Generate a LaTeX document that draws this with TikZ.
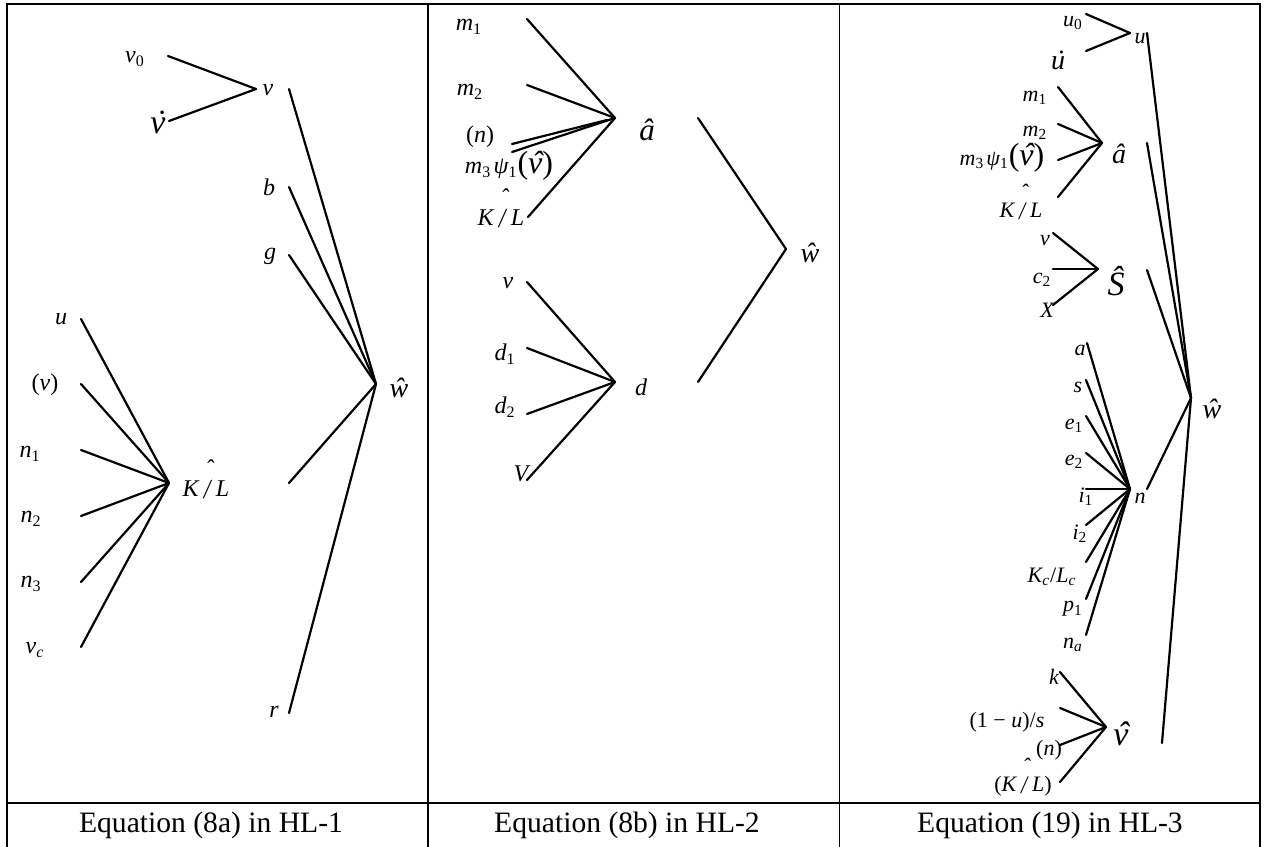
\documentclass[tikz,border=0pt]{standalone}
\usepackage{fontspec}
\setmainfont{Liberation Serif}
\newcommand\sbs[1]{\textsubscript{\upshape #1}}
\newcommand\isb[1]{\textsubscript{\itshape #1}}
\newcommand\acc[2]{{\ooalign{#1\cr\hidewidth\kern0.12em#2\hidewidth\cr}}}
\newcommand\hatslash{{\ooalign{\raisebox{-0.08em}{\scalebox{1}[1.15]{/}}\cr\hidewidth\kern0.18em\raisebox{0.8em}{ˆ}\hidewidth\cr}}}
\newcommand\KL{K\kern0.22em\hatslash\kern0.22em L}
\newcommand\bigpar[1]{{\fontsize{16}{16}\selectfont\upshape(\itshape #1\upshape)}}
\tikzset{
  lab/.style={inner sep=0pt, font=\fontsize{12}{12}\selectfont\itshape},
  labs/.style={inner sep=0pt, font=\fontsize{11}{11}\selectfont\itshape},
  mid/.style={inner sep=0pt, font=\fontsize{14}{14}\selectfont\itshape},
  big/.style={inner sep=0pt, font=\fontsize{15.5}{16}\selectfont\itshape},
  huge/.style={inner sep=0pt, font=\fontsize{17}{18}\selectfont\itshape},
  edge/.style={line width=1.1pt, line cap=round},
  frame/.style={line width=1.3pt},
  thinframe/.style={line width=0.5pt},
  captxt/.style={inner sep=0pt, font=\fontsize{14.8}{15}\selectfont},
}
\begin{document}
\begin{tikzpicture}[x=0.5pt,y=-0.5pt]
\useasboundingbox (0,0) rectangle (1266,847);
% ---------- table frame ----------
\coordinate (TL) at (7,4);
\coordinate (TR) at (1260,4);
\coordinate (BL) at (7,847);
\coordinate (BR) at (1260,847);
\coordinate (C1t) at (428,4);
\coordinate (C1b) at (428,847);
\coordinate (C2t) at (839,4);
\coordinate (C2b) at (839,847);
\coordinate (Sl) at (7,803);
\coordinate (Sr) at (1260,803);
\draw[frame] (BL) -- (TL) -- (TR) -- (BR);
\draw[frame] (C1t) -- (C1b);
\draw[thinframe] (C2t) -- (C2b);
\draw[frame] (Sl) -- (Sr);
\node[captxt] (cap1) at (211,825) {Equation (8a) in HL-1};
\node[captxt] (cap2) at (627,825) {Equation (8b) in HL-2};
\node[captxt] (cap3) at (1050,825) {Equation (19) in HL-3};

% ================= Panel 1 =================
\node[lab] (v0) at (135,59) {v\sbs{0}};
\node[huge] (vdot) at (158,126) {\acc{v}{˙}};
\node[lab] (v) at (268,90) {v};
\node[lab] (b) at (269,187) {b};
\node[lab] (g) at (270,256) {g};
\node[mid] (w1) at (399,388) {ŵ};
\node[lab] (KL1) at (206,488) {\KL};
\node[lab] (r) at (274,712) {r};
\node[lab] (u1) at (61,319) {u};
\node[lab] (pv1) at (45,385) {\upshape(\itshape v\upshape)};
\node[lab] (n1) at (30,454) {n\sbs{1}};
\node[lab] (n2) at (31,519) {n\sbs{2}};
\node[lab] (n3) at (31,584) {n\sbs{3}};
\node[lab] (vc) at (35,650) {v\isb{c}};

\coordinate (Jv) at (256,89);
\coordinate (Jw1) at (376,384);
\coordinate (JK1) at (169,483);
\coordinate (ev0) at (168,56);
\coordinate (evdot) at (169,121);
\coordinate (ev) at (289,89);
\coordinate (eb) at (289,187);
\coordinate (eg) at (289,255);
\coordinate (eKL1) at (289,483);
\coordinate (er) at (289,713);
\coordinate (eu1) at (81,319);
\coordinate (epv1) at (81,384);
\coordinate (en1) at (81,450);
\coordinate (en2) at (81,516);
\coordinate (en3) at (81,582);
\coordinate (evc) at (81,647);
\draw[edge] (ev0) -- (Jv);
\draw[edge] (evdot) -- (Jv);
\foreach \s in {ev,eb,eg,eKL1,er} \draw[edge] (\s) -- (Jw1);
\foreach \s in {eu1,epv1,en1,en2,en3,evc} \draw[edge] (\s) -- (JK1);

% ================= Panel 2 =================
\node[lab] (m1b) at (469,27) {m\sbs{1}};
\node[lab] (m2b) at (470,92) {m\sbs{2}};
\node[lab] (pn2) at (480,137) {\upshape(\itshape n\upshape)};
\node[lab] (m3b) at (509,166) {m\sbs{3}\kern0.1em ψ\sbs{1}\bigpar{\acc{v}{ˆ}}};
\node[lab] (KL2) at (501,217) {\KL};
\node[big] (a2) at (647,130) {â};
\node[mid] (w2) at (810,253) {ŵ};
\node[lab] (v2) at (508,283) {v};
\node[lab] (d1) at (505,354) {d\sbs{1}};
\node[lab] (d2) at (505,407) {d\sbs{2}};
\node[lab] (V2) at (521,474) {V};
\node[lab] (d) at (641,387) {d};

\coordinate (Ja2) at (615,118);
\coordinate (Jw2) at (786,249);
\coordinate (Jd2) at (615,382);
\coordinate (em1b) at (527,19);
\coordinate (em2b) at (527,85);
\coordinate (epn2) at (512,144);
\coordinate (epn2e) at (607,120);
\coordinate (em3b) at (512,152);
\coordinate (eKL2) at (528,217);
\coordinate (ea2) at (698,118);
\coordinate (ed) at (698,382);
\coordinate (ev2) at (527,282);
\coordinate (ed1) at (527,348);
\coordinate (ed2) at (527,414);
\coordinate (eV2) at (527,480);
\foreach \s in {em1b,em2b,em3b,eKL2} \draw[edge] (\s) -- (Ja2);
\draw[edge] (epn2) -- (epn2e);
\draw[edge] (ea2) -- (Jw2);
\draw[edge] (ed) -- (Jw2);
\foreach \s in {ev2,ed1,ed2,eV2} \draw[edge] (\s) -- (Jd2);

% ================= Panel 3 =================
\node[labs] (u0) at (1073,23) {u\sbs{0}};
\node[mid] (udot) at (1058,63) {\acc{u}{˙}};
\node[labs] (u3) at (1140,39) {u};
\node[labs] (m1c) at (1035,98) {m\sbs{1}};
\node[labs] (m2c) at (1035,133) {m\sbs{2}};
\node[labs] (m3c) at (1002,158) {m\sbs{3}\kern0.1em ψ\sbs{1}\bigpar{\acc{v}{ˆ}}};
\node[labs] (KL3) at (1021,210) {\KL};
\node[mid] (a3) at (1119,154) {â};
\node[labs] (v3) at (1045,241) {v};
\node[labs] (c2) at (1042,280) {c\sbs{2}};
\node[labs] (X3) at (1047,310) {X};
\node[huge] (S3) at (1116,281) {Ŝ};
\node[labs] (a3n) at (1080,350) {a};
\node[labs] (s3) at (1078,387) {s};
\node[labs] (e1) at (1074,426) {e\sbs{1}};
\node[labs] (e2) at (1074,462) {e\sbs{2}};
\node[labs] (i1) at (1086,497) {i\sbs{1}};
\node[labs] (i2) at (1080,534) {i\sbs{2}};
\node[labs] (KcLc) at (1052,577) {K\isb{c}\upshape/\itshape L\isb{c}};
\node[labs] (p1) at (1073,609) {p\sbs{1}};
\node[labs] (na) at (1073,645) {n\isb{a}};
\node[labs] (n3n) at (1140,498) {n};
\node[mid] (w3) at (1212,409) {ŵ};
\node[labs] (k3) at (1054,677) {k};
\node[labs] (oneus) at (1007,722) {\upshape(1 − \itshape u\upshape)/\itshape s};
\node[labs] (pn3) at (1049,750) {\upshape(\itshape n\upshape)};
\node[huge] (vhat3) at (1121,738) {\acc{v}{ˆ}};
\node[labs] (pKL3) at (1023,786) {\upshape(\itshape\KL\upshape)};

\coordinate (Ju3) at (1130,33);
\coordinate (Jw3) at (1191,398);
\coordinate (Ja3) at (1102,143);
\coordinate (JS3) at (1098,269);
\coordinate (Jn3) at (1130,489);
\coordinate (Jv3) at (1106,727);
\coordinate (eu0) at (1086,14);
\coordinate (eudot) at (1086,51);
\coordinate (eu3) at (1147,33);
\coordinate (ea3) at (1147,143);
\coordinate (eS3) at (1147,270);
\coordinate (en3n) at (1147,489);
\coordinate (evhat3) at (1162,743);
\coordinate (em1c) at (1058,87);
\coordinate (em2c) at (1058,124);
\coordinate (em3c) at (1058,160);
\coordinate (eKL3) at (1058,197);
\coordinate (ev3) at (1053,233);
\coordinate (ec2) at (1053,269);
\coordinate (eX3) at (1053,305);
\coordinate (ea3n) at (1087,343);
\coordinate (es3) at (1086,380);
\coordinate (ee1) at (1086,416);
\coordinate (ee2) at (1086,453);
\coordinate (ei1) at (1086,489);
\coordinate (ei2) at (1086,525);
\coordinate (eKcLc) at (1086,562);
\coordinate (ep1) at (1086,599);
\coordinate (ena) at (1086,635);
\coordinate (ek3) at (1060,672);
\coordinate (eoneus) at (1060,708);
\coordinate (epn3) at (1060,745);
\coordinate (epKL3) at (1060,782);
\draw[edge] (eu0) -- (Ju3);
\draw[edge] (eudot) -- (Ju3);
\foreach \s in {eu3,ea3,eS3,en3n,evhat3} \draw[edge] (\s) -- (Jw3);
\foreach \s in {em1c,em2c,em3c,eKL3} \draw[edge] (\s) -- (Ja3);
\foreach \s in {ev3,ec2,eX3} \draw[edge] (\s) -- (JS3);
\foreach \s in {ea3n,es3,ee1,ee2,ei1,ei2,eKcLc,ep1,ena} \draw[edge] (\s) -- (Jn3);
\foreach \s in {ek3,eoneus,epn3,epKL3} \draw[edge] (\s) -- (Jv3);
\end{tikzpicture}
\end{document}
